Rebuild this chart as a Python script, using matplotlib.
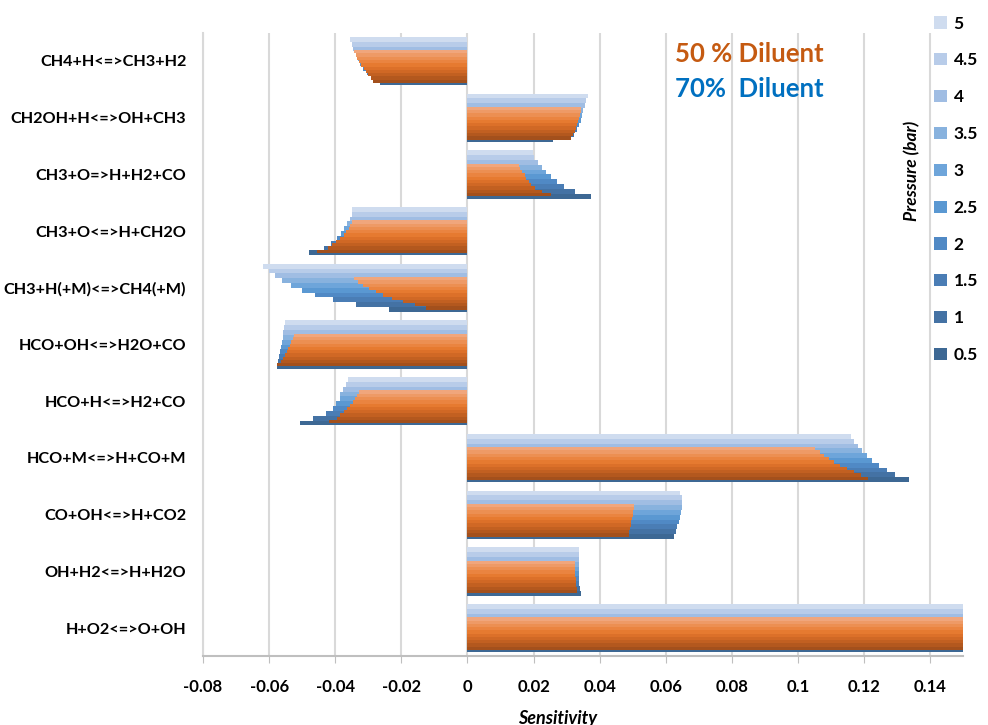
import numpy as np
import matplotlib
matplotlib.use("Agg")
import matplotlib.pyplot as plt

plt.rcParams['font.family'] = ['Lato', 'DejaVu Sans']

# reactions, top to bottom as shown
reactions = ["CH4+H<=>CH3+H2", "CH2OH+H<=>OH+CH3", "CH3+O=>H+H2+CO",
             "CH3+O<=>H+CH2O", "CH3+H(+M)<=>CH4(+M)", "HCO+OH<=>H2O+CO",
             "HCO+H<=>H2+CO", "HCO+M<=>H+CO+M", "CO+OH<=>H+CO2",
             "OH+H2<=>H+H2O", "H+O2<=>O+OH"]
pressures = ["0.5", "1", "1.5", "2", "2.5", "3", "3.5", "4", "4.5", "5"]

# sensitivity, 70 % diluent (rows = reactions, cols = pressure 0.5 -> 5)
sens_70 = [
    [-0.0264, -0.0290, -0.0305, -0.0315, -0.0325, -0.0332, -0.0338, -0.0346, -0.0350, -0.0354],
    [0.0258, 0.0322, 0.0330, 0.0336, 0.0342, 0.0347, 0.0351, 0.0355, 0.0360, 0.0364],
    [0.0374, 0.0326, 0.0293, 0.0271, 0.0253, 0.0238, 0.0225, 0.0213, 0.0201, 0.0198],
    [-0.0479, -0.0434, -0.0413, -0.0395, -0.0383, -0.0373, -0.0364, -0.0355, -0.0350, -0.0349],
    [-0.0238, -0.0338, -0.0408, -0.0461, -0.0501, -0.0534, -0.0560, -0.0582, -0.0599, -0.0619],
    [-0.0575, -0.0572, -0.0569, -0.0566, -0.0563, -0.0561, -0.0559, -0.0557, -0.0554, -0.0552],
    [-0.0508, -0.0468, -0.0427, -0.0408, -0.0397, -0.0387, -0.0385, -0.0377, -0.0368, -0.0360],
    [0.1335, 0.1292, 0.1268, 0.1245, 0.1225, 0.1210, 0.1195, 0.1182, 0.1170, 0.1159],
    [0.0625, 0.0630, 0.0635, 0.0641, 0.0644, 0.0646, 0.0648, 0.0649, 0.0649, 0.0644],
    [0.0342, 0.0339, 0.0338, 0.0337, 0.0337, 0.0336, 0.0336, 0.0336, 0.0336, 0.0336],
    [0.205, 0.204, 0.203, 0.202, 0.201, 0.200, 0.199, 0.198, 0.197, 0.196],
]

# sensitivity, 50 % diluent
sens_50 = [
    [-0.0286, -0.0293, -0.0300, -0.0307, -0.0314, -0.0321, -0.0327, -0.0333, -0.0338, -0.0344],
    [0.0312, 0.0320, 0.0324, 0.0327, 0.0330, 0.0333, 0.0336, 0.0339, 0.0342, 0.0344],
    [0.0253, 0.0225, 0.0203, 0.0193, 0.0185, 0.0178, 0.0173, 0.0166, 0.0160, 0.0155],
    [-0.0454, -0.0422, -0.0410, -0.0397, -0.0385, -0.0375, -0.0368, -0.0359, -0.0355, -0.0349],
    [-0.0125, -0.0160, -0.0196, -0.0228, -0.0255, -0.0278, -0.0298, -0.0315, -0.0330, -0.0342],
    [-0.0575, -0.0565, -0.0558, -0.0552, -0.0547, -0.0542, -0.0538, -0.0533, -0.0529, -0.0526],
    [-0.0420, -0.0395, -0.0385, -0.0374, -0.0364, -0.0356, -0.0346, -0.0339, -0.0334, -0.0327],
    [0.1212, 0.1190, 0.1170, 0.1148, 0.1128, 0.1110, 0.1095, 0.1080, 0.1065, 0.1052],
    [0.0488, 0.0490, 0.0492, 0.0494, 0.0496, 0.0498, 0.0500, 0.0502, 0.0504, 0.0505],
    [0.0331, 0.0330, 0.0329, 0.0328, 0.0327, 0.0326, 0.0326, 0.0325, 0.0325, 0.0325],
    [0.190, 0.190, 0.190, 0.190, 0.190, 0.190, 0.190, 0.190, 0.190, 0.190],
]

blues = ["#3d6894", "#4472a4", "#4a7db5", "#5089c5", "#5a98d2", "#6ea5da",
         "#88b2de", "#a0bde3", "#b8cce9", "#cfdcef"]
oranges = ["#a3501c", "#b3581e", "#c26021", "#d06825", "#dc7029", "#e67a30",
           "#ea8440", "#ec8f52", "#ee9a66", "#f0a67c"]

s70 = np.array(sens_70)[::-1]   # bottom to top
s50 = np.array(sens_50)[::-1]
y = np.arange(len(reactions))
n = len(pressures)

fig = plt.figure(figsize=(9.88, 7.25), dpi=100)
ax = fig.add_axes([0.2055, 0.0945, 0.7695, 0.8605])

hb = 0.85 / n
ho = 0.575 / n
handles = []
for k in range(n):
    b = ax.barh(y - 0.425 + (k + 0.5) * hb, s70[:, k], height=hb,
                color=blues[k], zorder=2, label=pressures[k])
    handles.append(b)
for k in range(n):
    ax.barh(y - 0.385 + (k + 0.5) * ho, s50[:, k], height=ho,
            color=oranges[k], zorder=3)

ax.set_xlim(-0.08, 0.15)
ax.set_ylim(-0.5, len(reactions) - 0.5)
ax.set_xticks(np.arange(-0.08, 0.1401, 0.02))
ax.set_xticklabels(["-0.08", "-0.06", "-0.04", "-0.02", "0", "0.02", "0.04",
                    "0.06", "0.08", "0.1", "0.12", "0.14"],
                   fontsize=12, fontweight='bold')
ax.set_yticks(y)
ax.set_yticklabels(reactions[::-1], fontsize=11.7, fontweight='bold')
ax.tick_params(axis='y', length=0, pad=12)
ax.tick_params(axis='x', length=5, color='#bfbfbf', pad=11)
ax.grid(axis='x', color='#d9d9d9', linewidth=1.5, zorder=0)
ax.set_axisbelow(True)
for s in ['top', 'right']:
    ax.spines[s].set_visible(False)
ax.spines['left'].set_color('#d9d9d9')
ax.spines['left'].set_linewidth(1.5)
ax.spines['bottom'].set_color('#bfbfbf')
ax.spines['bottom'].set_linewidth(1.5)
ax.set_xlabel("Sensitivity", fontsize=13, fontweight='bold', style='italic')
ax.xaxis.set_label_coords(0.467, -0.085)

fig.legend(handles=handles[::-1], loc='upper left', bbox_to_anchor=(0.93, 1.0),
           frameon=False, prop={'size': 12.5, 'weight': 'bold'},
           handlelength=0.7, handleheight=0.7, handletextpad=0.4, labelspacing=1.2)

fig.text(0.923, 0.764, "Pressure (bar)", rotation=90, ha='center', va='center',
         fontsize=12.5, fontweight='bold', style='italic')
fig.text(0.683, 0.925, "50 % Diluent", color='#c55a11', fontsize=18.5,
         fontweight='bold', va='center')
fig.text(0.683, 0.877, "70%  Diluent", color='#0070c0', fontsize=18.5,
         fontweight='bold', va='center')

fig.savefig("out.png", dpi=100)
